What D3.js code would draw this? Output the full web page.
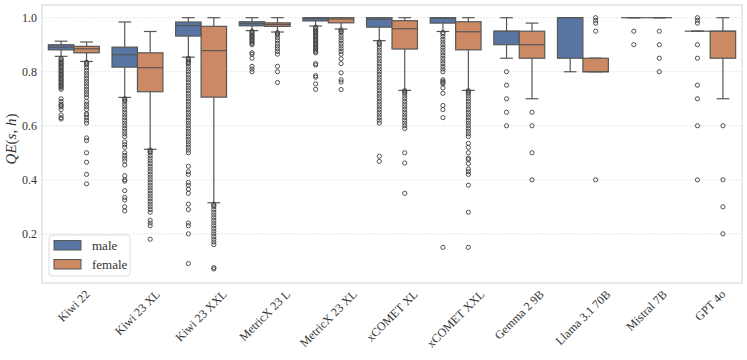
<!DOCTYPE html>
<html>
<head>
<meta charset="utf-8">
<script src="https://cdn.jsdelivr.net/npm/d3@7"></script>
<style>
  body { margin: 0; background: #fff; }
</style>
</head>
<body>
<svg id="chart" width="747" height="360" font-family="Liberation Serif, DejaVu Serif, serif"></svg>
<script>
// categories and hue levels
var categories = ["Kiwi 22", "Kiwi 23 XL", "Kiwi 23 XXL", "MetricX 23 L", "MetricX 23 XL",
    "xCOMET XL", "xCOMET XXL", "Gemma 2 9B", "Llama 3.1 70B", "Mistral 7B", "GPT 4o"];
var hues = ["male", "female"];
var yTicks = [0.2, 0.4, 0.6, 0.8, 1.0];

// box stats per category: [lower whisker, q1, median, q3, upper whisker]
var maleStats = [
    [0.857, 0.881, 0.891, 0.900, 0.913],
    [0.705, 0.817, 0.863, 0.891, 0.984],
    [0.854, 0.932, 0.971, 0.984, 1.0],
    [0.952, 0.970, 0.978, 0.985, 1.0],
    [0.969, 0.988, 0.996, 1.0, 1.0],
    [0.915, 0.965, 0.994, 1.0, 1.0],
    [0.949, 0.980, 0.998, 1.0, 1.0],
    [0.85, 0.90, 0.95, 0.95, 1.0],
    [0.80, 0.85, 1.0, 1.0, 1.0],
    [1.0, 1.0, 1.0, 1.0, 1.0],
    [0.95, 0.95, 0.95, 0.95, 0.95]
];
var femaleStats = [
    [0.838, 0.870, 0.885, 0.894, 0.910],
    [0.513, 0.726, 0.815, 0.870, 0.949],
    [0.315, 0.706, 0.878, 0.968, 1.0],
    [0.947, 0.968, 0.975, 0.981, 1.0],
    [0.958, 0.981, 0.995, 1.0, 1.0],
    [0.731, 0.884, 0.959, 0.989, 1.0],
    [0.731, 0.881, 0.948, 0.985, 1.0],
    [0.70, 0.85, 0.90, 0.95, 0.98],
    [0.80, 0.80, 0.80, 0.85, 0.85],
    [1.0, 1.0, 1.0, 1.0, 1.0],
    [0.70, 0.85, 0.95, 0.95, 1.0]
];

// outliers (fliers) per category
var maleOutliers = [
    [0.85, 0.845, 0.84, 0.835, 0.83, 0.825, 0.82, 0.815, 0.81, 0.805, 0.80, 0.795, 0.79, 0.785, 0.78,
     0.775, 0.77, 0.765, 0.76, 0.755, 0.75, 0.745, 0.74, 0.735, 0.70, 0.69, 0.68, 0.675, 0.67, 0.66,
     0.64, 0.63, 0.625],
    [0.70, 0.695, 0.69, 0.68, 0.67, 0.66, 0.65, 0.64, 0.63, 0.62, 0.61, 0.60, 0.59, 0.58, 0.57, 0.56, 0.54,
     0.53, 0.52, 0.50, 0.49, 0.48, 0.47, 0.455, 0.415, 0.40, 0.395, 0.36, 0.335, 0.325, 0.30, 0.285],
    [0.85, 0.845, 0.84, 0.835, 0.83, 0.82, 0.81, 0.80, 0.79, 0.78, 0.77, 0.76, 0.75, 0.74, 0.73, 0.72, 0.71, 0.70,
     0.69, 0.68, 0.67, 0.66, 0.65, 0.64, 0.63, 0.62, 0.61, 0.60, 0.59, 0.58, 0.57, 0.56, 0.55, 0.54,
     0.53, 0.52, 0.51, 0.50, 0.45, 0.43, 0.42, 0.39, 0.38, 0.365, 0.35, 0.31, 0.29, 0.24, 0.23, 0.20, 0.09],
    [0.95, 0.945, 0.94, 0.935, 0.93, 0.925, 0.92, 0.915, 0.91, 0.905, 0.90, 0.87, 0.865, 0.85, 0.82, 0.81, 0.80],
    [0.965, 0.96, 0.955, 0.95, 0.945, 0.94, 0.935, 0.93, 0.925, 0.92, 0.915, 0.91, 0.905, 0.90, 0.895,
     0.89, 0.885, 0.88, 0.875, 0.87, 0.83, 0.825, 0.785, 0.78, 0.755, 0.735],
    [0.91, 0.905, 0.90, 0.89, 0.88, 0.87, 0.86, 0.85, 0.84, 0.83, 0.82, 0.81, 0.80, 0.79, 0.78, 0.77, 0.76,
     0.75, 0.74, 0.73, 0.72, 0.71, 0.70, 0.69, 0.68, 0.67, 0.66, 0.65, 0.64, 0.63, 0.62, 0.61, 0.487, 0.468],
    [0.945, 0.94, 0.93, 0.92, 0.91, 0.90, 0.89, 0.88, 0.87, 0.86, 0.85, 0.84, 0.83, 0.82, 0.81, 0.80,
     0.77, 0.765, 0.76, 0.755, 0.74, 0.72, 0.675, 0.66, 0.63, 0.15],
    [0.80, 0.75, 0.70, 0.65, 0.60],
    [],
    [0.95, 0.90],
    [1.0, 0.99, 0.98, 0.90, 0.85, 0.75, 0.70, 0.60, 0.40]
];
var femaleOutliers = [
    [0.835, 0.83, 0.825, 0.815, 0.805, 0.795, 0.785, 0.775, 0.765, 0.755, 0.745, 0.735, 0.725, 0.715, 0.705,
     0.69, 0.68, 0.67, 0.66, 0.645, 0.64, 0.63, 0.62, 0.61, 0.555, 0.545, 0.50, 0.465, 0.42, 0.385],
    [0.51, 0.505, 0.50, 0.49, 0.48, 0.47, 0.46, 0.45, 0.44, 0.43, 0.42, 0.41, 0.40, 0.39, 0.38, 0.37, 0.36,
     0.35, 0.34, 0.33, 0.32, 0.31, 0.30, 0.29, 0.28, 0.25, 0.24, 0.23, 0.18],
    [0.31, 0.305, 0.30, 0.29, 0.28, 0.27, 0.26, 0.25, 0.24, 0.23, 0.22, 0.21, 0.20, 0.19, 0.18, 0.17, 0.16, 0.075, 0.07],
    [0.945, 0.94, 0.935, 0.925, 0.915, 0.905, 0.895, 0.885, 0.875, 0.865, 0.82, 0.80, 0.76],
    [0.955, 0.95, 0.945, 0.935, 0.925, 0.915, 0.905, 0.895, 0.885, 0.875, 0.865, 0.848, 0.83, 0.796, 0.77, 0.762, 0.734],
    [0.73, 0.725, 0.72, 0.71, 0.70, 0.69, 0.68, 0.67, 0.66, 0.65, 0.64, 0.63, 0.62, 0.61, 0.60, 0.59, 0.50, 0.462, 0.35],
    [0.73, 0.725, 0.72, 0.71, 0.70, 0.69, 0.68, 0.67, 0.66, 0.65, 0.64, 0.63, 0.62, 0.61, 0.60, 0.59, 0.58, 0.57, 0.56,
     0.535, 0.52, 0.50, 0.48, 0.475, 0.46, 0.44, 0.43, 0.42, 0.38, 0.28, 0.15],
    [0.65, 0.60, 0.50, 0.40],
    [1.0, 0.99, 0.98, 0.95, 0.40],
    [0.95, 0.90, 0.85, 0.80],
    [0.60, 0.40, 0.30, 0.20]
];

var colors = {male: "#5975a4", female: "#cc8963"};
var lineColor = "#575757";
var serif = "Liberation Serif, DejaVu Serif, serif";

var svg = d3.select("#chart");
var plot = {left: 42, right: 742, top: 5, bottom: 283};

var x = d3.scaleBand().domain(categories).range([plot.left, plot.right]);
var bw = x.bandwidth();
var xHue = d3.scaleBand().domain(hues).range([0.1 * bw, 0.9 * bw]);
var boxW = xHue.bandwidth();
var y = d3.scaleLinear().domain([0.018, 1.047]).range([plot.bottom, plot.top]);

// grid
svg.append("g").selectAll("line")
    .data(yTicks)
    .enter().append("line")
    .attr("x1", plot.left).attr("x2", plot.right)
    .attr("y1", function (d) { return y(d); })
    .attr("y2", function (d) { return y(d); })
    .style("stroke", "#dedede")
    .style("stroke-width", 0.8)
    .style("stroke-dasharray", "2,1.5");

// y axis labels (no ticks, no domain line)
var yAxis = d3.axisLeft(y).tickValues(yTicks).tickSize(0).tickPadding(5).tickFormat(d3.format(".1f"));
var gy = svg.append("g").attr("transform", "translate(" + plot.left + ",0)").call(yAxis);
gy.attr("font-family", serif);
gy.select(".domain").remove();
gy.selectAll("text")
    .attr("font-family", serif)
    .style("font-size", "12px")
    .style("fill", "#333");

// frame
svg.append("rect")
    .attr("x", plot.left).attr("y", plot.top)
    .attr("width", plot.right - plot.left).attr("height", plot.bottom - plot.top)
    .style("fill", "none").style("stroke", "#d4d4d4").style("stroke-width", 1);

// build rows
var rows = [];
categories.forEach(function (c, i) {
    rows.push({cat: c, hue: "male", s: maleStats[i], out: maleOutliers[i]});
    rows.push({cat: c, hue: "female", s: femaleStats[i], out: femaleOutliers[i]});
});

var boxes = svg.append("g").selectAll("g.box")
    .data(rows)
    .enter().append("g")
    .attr("class", "box")
    .attr("transform", function (d) { return "translate(" + (x(d.cat) + xHue(d.hue)) + ",0)"; });

// whiskers
boxes.append("line")
    .attr("x1", boxW / 2).attr("x2", boxW / 2)
    .attr("y1", function (d) { return y(d.s[0]); })
    .attr("y2", function (d) { return y(d.s[1]); })
    .style("stroke", lineColor).style("stroke-width", 1.2);
boxes.append("line")
    .attr("x1", boxW / 2).attr("x2", boxW / 2)
    .attr("y1", function (d) { return y(d.s[3]); })
    .attr("y2", function (d) { return y(d.s[4]); })
    .style("stroke", lineColor).style("stroke-width", 1.2);
// caps
[0, 4].forEach(function (k) {
    boxes.append("line")
        .attr("x1", boxW * 0.25).attr("x2", boxW * 0.75)
        .attr("y1", function (d) { return y(d.s[k]); })
        .attr("y2", function (d) { return y(d.s[k]); })
        .style("stroke", lineColor).style("stroke-width", 1.2);
});
// box
boxes.append("rect")
    .attr("x", 0).attr("width", boxW)
    .attr("y", function (d) { return y(d.s[3]); })
    .attr("height", function (d) { return y(d.s[1]) - y(d.s[3]); })
    .style("fill", function (d) { return colors[d.hue]; })
    .style("stroke", lineColor).style("stroke-width", 1.2);
// median
boxes.append("line")
    .attr("x1", 0).attr("x2", boxW)
    .attr("y1", function (d) { return y(d.s[2]); })
    .attr("y2", function (d) { return y(d.s[2]); })
    .style("stroke", lineColor).style("stroke-width", 1.2);
// fliers
boxes.selectAll("circle")
    .data(function (d) { return d.out; })
    .enter().append("circle")
    .attr("cx", boxW / 2)
    .attr("cy", function (v) { return y(v); })
    .attr("r", 2.1)
    .style("fill", "none")
    .style("stroke", "#3f3f3f")
    .style("stroke-width", 0.9);

// x labels rotated 45 degrees, centred on the tick
var xl = svg.append("g").selectAll("text")
    .data(categories)
    .enter().append("text")
    .text(function (d) { return d; })
    .attr("font-family", serif)
    .style("font-size", "12px")
    .style("fill", "#333")
    .attr("text-anchor", "middle")
    .attr("dominant-baseline", "central");
xl.attr("transform", function (d) {
    var w = this.getComputedTextLength();
    var off = (w + 9) * 0.7071 / 2;
    return "translate(" + (x(d) + bw / 2) + "," + (plot.bottom + 6 + off) + ") rotate(-45)";
});

// y axis title: QE(s, h)
var yt = svg.append("text")
    .attr("transform", "translate(15.5,139) rotate(-90)")
    .attr("text-anchor", "middle")
    .attr("font-family", serif)
    .style("font-size", "15px")
    .style("fill", "#333");
yt.append("tspan").style("font-style", "italic").text("QE");
yt.append("tspan").text("(");
yt.append("tspan").style("font-style", "italic").text("s");
yt.append("tspan").text(", ");
yt.append("tspan").style("font-style", "italic").text("h");
yt.append("tspan").text(")");

// legend
var lg = svg.append("g").attr("transform", "translate(49,235)");
lg.append("rect")
    .attr("width", 81).attr("height", 41).attr("rx", 3)
    .style("fill", "#fff").style("fill-opacity", 0.8)
    .style("stroke", "#dcdcdc").style("stroke-width", 1);
hues.forEach(function (h, i) {
    lg.append("rect")
        .attr("x", 5).attr("y", 5.5 + i * 19)
        .attr("width", 27).attr("height", 9.5)
        .style("fill", colors[h]).style("stroke", lineColor).style("stroke-width", 1);
    lg.append("text")
        .attr("x", 43).attr("y", 14.5 + i * 19)
        .attr("font-family", serif)
        .style("font-size", "13px").style("fill", "#333")
        .text(h);
});
</script>
</body>
</html>
